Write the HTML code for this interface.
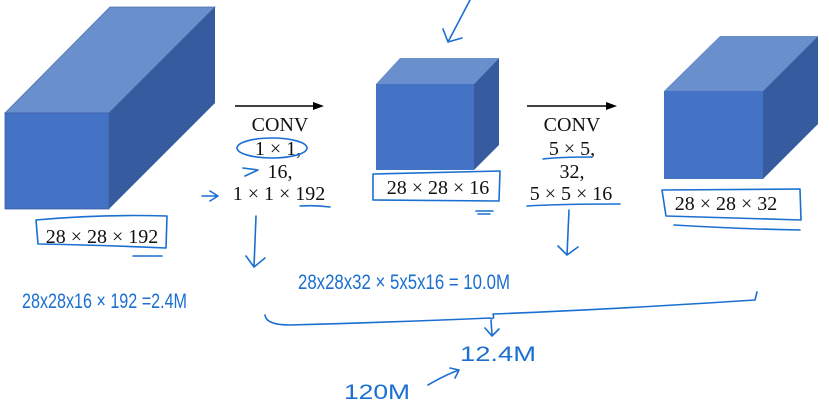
<!DOCTYPE html>
<html><head><style>
html,body{margin:0;padding:0;background:#fff;}
svg{display:block;}
.t{font-family:"Liberation Serif",serif;font-size:20px;fill:#111;text-anchor:middle;}
.h{font-family:"Liberation Sans",sans-serif;font-size:21px;fill:#1a6fd0;}
.b{stroke:#1a6fd0;stroke-width:1.6;fill:none;stroke-linecap:round;stroke-linejoin:round;}
</style></head><body>
<svg width="829" height="408" viewBox="0 0 829 408" xmlns="http://www.w3.org/2000/svg">
<polygon points="5,113 110,7 215,7 109,113" fill="#6a8fcd" stroke="#4a6fb0" stroke-width="0.8"/>
<polygon points="109,113 215,7 215,103 109,209" fill="#365c9f"/>
<rect x="5" y="113" width="104" height="96" fill="#4472c4" stroke="#3a5fa8" stroke-width="0.8"/>
<polygon points="376,84 400,58 499,58 474,84" fill="#6a8fcd"/>
<polygon points="474,84 499,58 499,145 474,170" fill="#365c9f"/>
<rect x="376" y="84" width="98" height="86" fill="#4472c4"/>
<polygon points="664,91 720,36 818,36 763,91" fill="#6a8fcd"/>
<polygon points="763,91 818,36 818,124 763,179" fill="#365c9f"/>
<rect x="664" y="91" width="99" height="88" fill="#4472c4"/>
<line x1="235" y1="106" x2="314" y2="106" stroke="#000" stroke-width="1.5"/>
<polygon points="313,102 324,106 313,110" fill="#000"/>
<line x1="527" y1="106" x2="607" y2="106" stroke="#000" stroke-width="1.5"/>
<polygon points="606,102 617,106 606,110" fill="#000"/>
<text class="t" x="102" y="243">28 × 28 × 192</text>
<text class="t" x="280" y="131">CONV</text>
<text class="t" x="278" y="155">1 × 1,</text>
<text class="t" x="280" y="178">16,</text>
<text class="t" x="279" y="200">1 × 1 × 192</text>
<text class="t" x="438" y="194">28 × 28 × 16</text>
<text class="t" x="572" y="131">CONV</text>
<text class="t" x="572" y="155">5 × 5,</text>
<text class="t" x="572" y="178">32,</text>
<text class="t" x="571" y="200">5 × 5 × 16</text>
<text class="t" x="726" y="210">28 × 28 × 32</text>
<path class="b" d="M36,220 Q100,214 167,216 L166,248 Q100,245 38,244 Z"/>
<path class="b" d="M133,256 L162,256"/>
<ellipse class="b" cx="272" cy="148" rx="35" ry="10"/>
<path class="b" d="M243,168 L258,170 L245,176"/>
<path class="b" d="M202,196 L218,196 M210,191 L218,196 L210,201"/>
<path class="b" d="M300,206 Q315,205 330,207"/>
<path class="b" d="M256,216 L254,267 M246,256 L254,267 L265,258"/>
<path class="b" d="M373,174 L500,171 L499,201 L373,200 Z"/>
<path class="b" d="M476,211 L493,211 M478,214 L490,214"/>
<path class="b" d="M470,0 L448,42 M443,29 L448,42 L462,38"/>
<path class="b" d="M543,159 Q560,157 592,157"/>
<path class="b" d="M527,206 Q560,204 620,204"/>
<path class="b" d="M569,210 L567,255 M558,246 L567,255 L578,247"/>
<path class="b" d="M662,190 L800,189 L801,220 L666,216 Z"/>
<path class="b" d="M674,225 Q740,229 800,230"/>
<text class="h" x="22" y="308" textLength="165" lengthAdjust="spacingAndGlyphs">28x28x16 × 192 =2.4M</text>
<text class="h" x="298" y="289" textLength="212" lengthAdjust="spacingAndGlyphs">28x28x32 × 5x5x16 = 10.0M</text>
<path class="b" d="M265,315 Q266,325 290,325 Q400,322 490,318 Q495,320 493,314 Q600,310 755,300 L757,292"/>
<path class="b" d="M491,320 L492,335 M485,328 L492,336 L499,329"/>
<text class="h" x="460" y="361" textLength="76" lengthAdjust="spacingAndGlyphs">12.4M</text>
<text class="h" x="344" y="399" textLength="66" lengthAdjust="spacingAndGlyphs">120M</text>
<path class="b" d="M428,385 Q445,375 459,370 M450,368 L459,370 L455,378"/>
</svg>
</body></html>
